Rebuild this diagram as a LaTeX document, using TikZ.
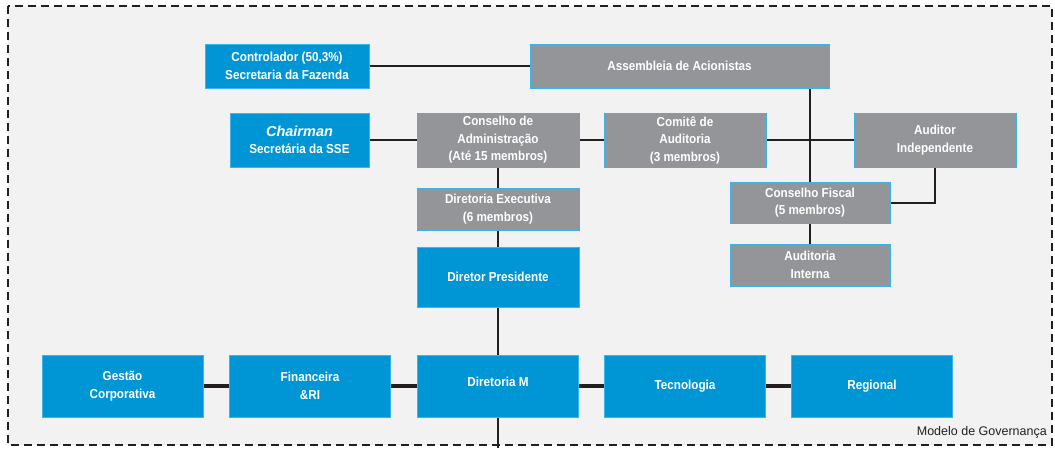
\documentclass[tikz,border=0pt]{standalone}
\usepackage{fontspec}
\setsansfont{Liberation Sans}
\newfontfamily\bxfont[FakeStretch=0.9]{Liberation Sans}
\newfontfamily\capfont{Liberation Sans}
\newfontfamily\chairfont{Liberation Sans}
\definecolor{bblue}{HTML}{0096D6}
\definecolor{bgray}{HTML}{939598}
\definecolor{bedge}{HTML}{3AB4EA}
\definecolor{bline}{HTML}{231F20}
\definecolor{bgfill}{HTML}{F2F2F2}
\tikzset{
  base/.style={draw=bedge, line width=1pt, inner sep=0pt, align=center, text=white,
    font=\bxfont\bfseries\fontsize{13}{17.5}\selectfont},
  bluebox/.style={base, fill=bblue},
  graybox/.style={base, fill=bgray},
  conn/.style={draw=bline, line width=2pt},
  connb/.style={draw=bline, line width=3.2pt},
}
\begin{document}
\begin{tikzpicture}[x=1pt,y=-1pt]
\useasboundingbox (0,0) rectangle (1055,448);
\fill[white] (0,0) rectangle (1055,448);
\draw[fill=bgfill, draw=bline, line width=2pt, dash pattern=on 8pt off 5pt] (8,6) rectangle (1052,445);
% top area
\node[bluebox, minimum width=164pt, minimum height=44pt] (ctrl) at (287,66) {Controlador (50,3\%)\\Secretaria da Fazenda};
\node[graybox, minimum width=299pt, minimum height=44pt] (assem) at (679.5,66) {Assembleia de Acionistas};
\node[bluebox, minimum width=139pt, minimum height=54pt] (chair) at (299.5,140) {{\chairfont\bfseries\itshape\fontsize{14.5}{17.5}\selectfont Chairman}\\Secretária da SSE};
\node[graybox, minimum width=162pt, minimum height=54pt] (cadm) at (498,140) {Conselho de\\Administração\\(Até 15 membros)};
\node[graybox, minimum width=162pt, minimum height=54pt] (comite) at (685,140) {Comitê de\\Auditoria\\(3 membros)};
\node[graybox, minimum width=162pt, minimum height=54pt] (audind) at (935,140) {Auditor\\Independente};
\node[graybox, minimum width=162pt, minimum height=42pt] (direx) at (498,209) {Diretoria Executiva\\(6 membros)};
\node[graybox, minimum width=160pt, minimum height=41pt] (cfis) at (810,202.5) {Conselho Fiscal\\(5 membros)};
\node[graybox, minimum width=160pt, minimum height=42pt] (audint) at (810,265) {Auditoria\\Interna};
\node[bluebox, minimum width=162pt, minimum height=60pt] (dpres) at (498,277) {Diretor Presidente};
% bottom row
\node[bluebox, minimum width=161pt, minimum height=62pt] (gest) at (122.5,386) {Gestão\\Corporativa};
\node[bluebox, minimum width=161pt, minimum height=62pt] (fin) at (310,386) {Financeira\\\&RI};
\node[bluebox, minimum width=161pt, minimum height=62pt] (dirm) at (498,386) {\raisebox{8pt}{Diretoria M}};
\node[bluebox, minimum width=161pt, minimum height=62pt] (tec) at (685,386) {Tecnologia};
\node[bluebox, minimum width=161pt, minimum height=62pt] (reg) at (872,386) {Regional};
\coordinate (bot) at (498,448);
\node[anchor=east, inner sep=0pt, text=bline, font=\capfont\fontsize{12.5}{14}\selectfont] (cap) at (1047,432) {Modelo de Governança};
% connectors
\draw[conn] (ctrl.east) -- (assem.west);
\draw[conn] (chair.east) -- (cadm.west);
\draw[conn] (cadm.east) -- (comite.west);
\draw[conn] (comite.east) -- (audind.west);
\draw[conn] (cfis.north |- assem.south) -- (cfis.north);
\draw[conn] (audind.south) -- (audind.south |- cfis.east) -- (cfis.east);
\draw[conn] (cfis.south) -- (audint.north);
\draw[conn] (cadm.south) -- (direx.north);
\draw[conn] (direx.south) -- (dpres.north);
\draw[conn] (dpres.south) -- (dirm.north);
\draw[conn] (dirm.south) -- (bot);
\draw[connb] (gest.east) -- (fin.west);
\draw[connb] (fin.east) -- (dirm.west);
\draw[connb] (dirm.east) -- (tec.west);
\draw[connb] (tec.east) -- (reg.west);
\end{tikzpicture}
\end{document}
